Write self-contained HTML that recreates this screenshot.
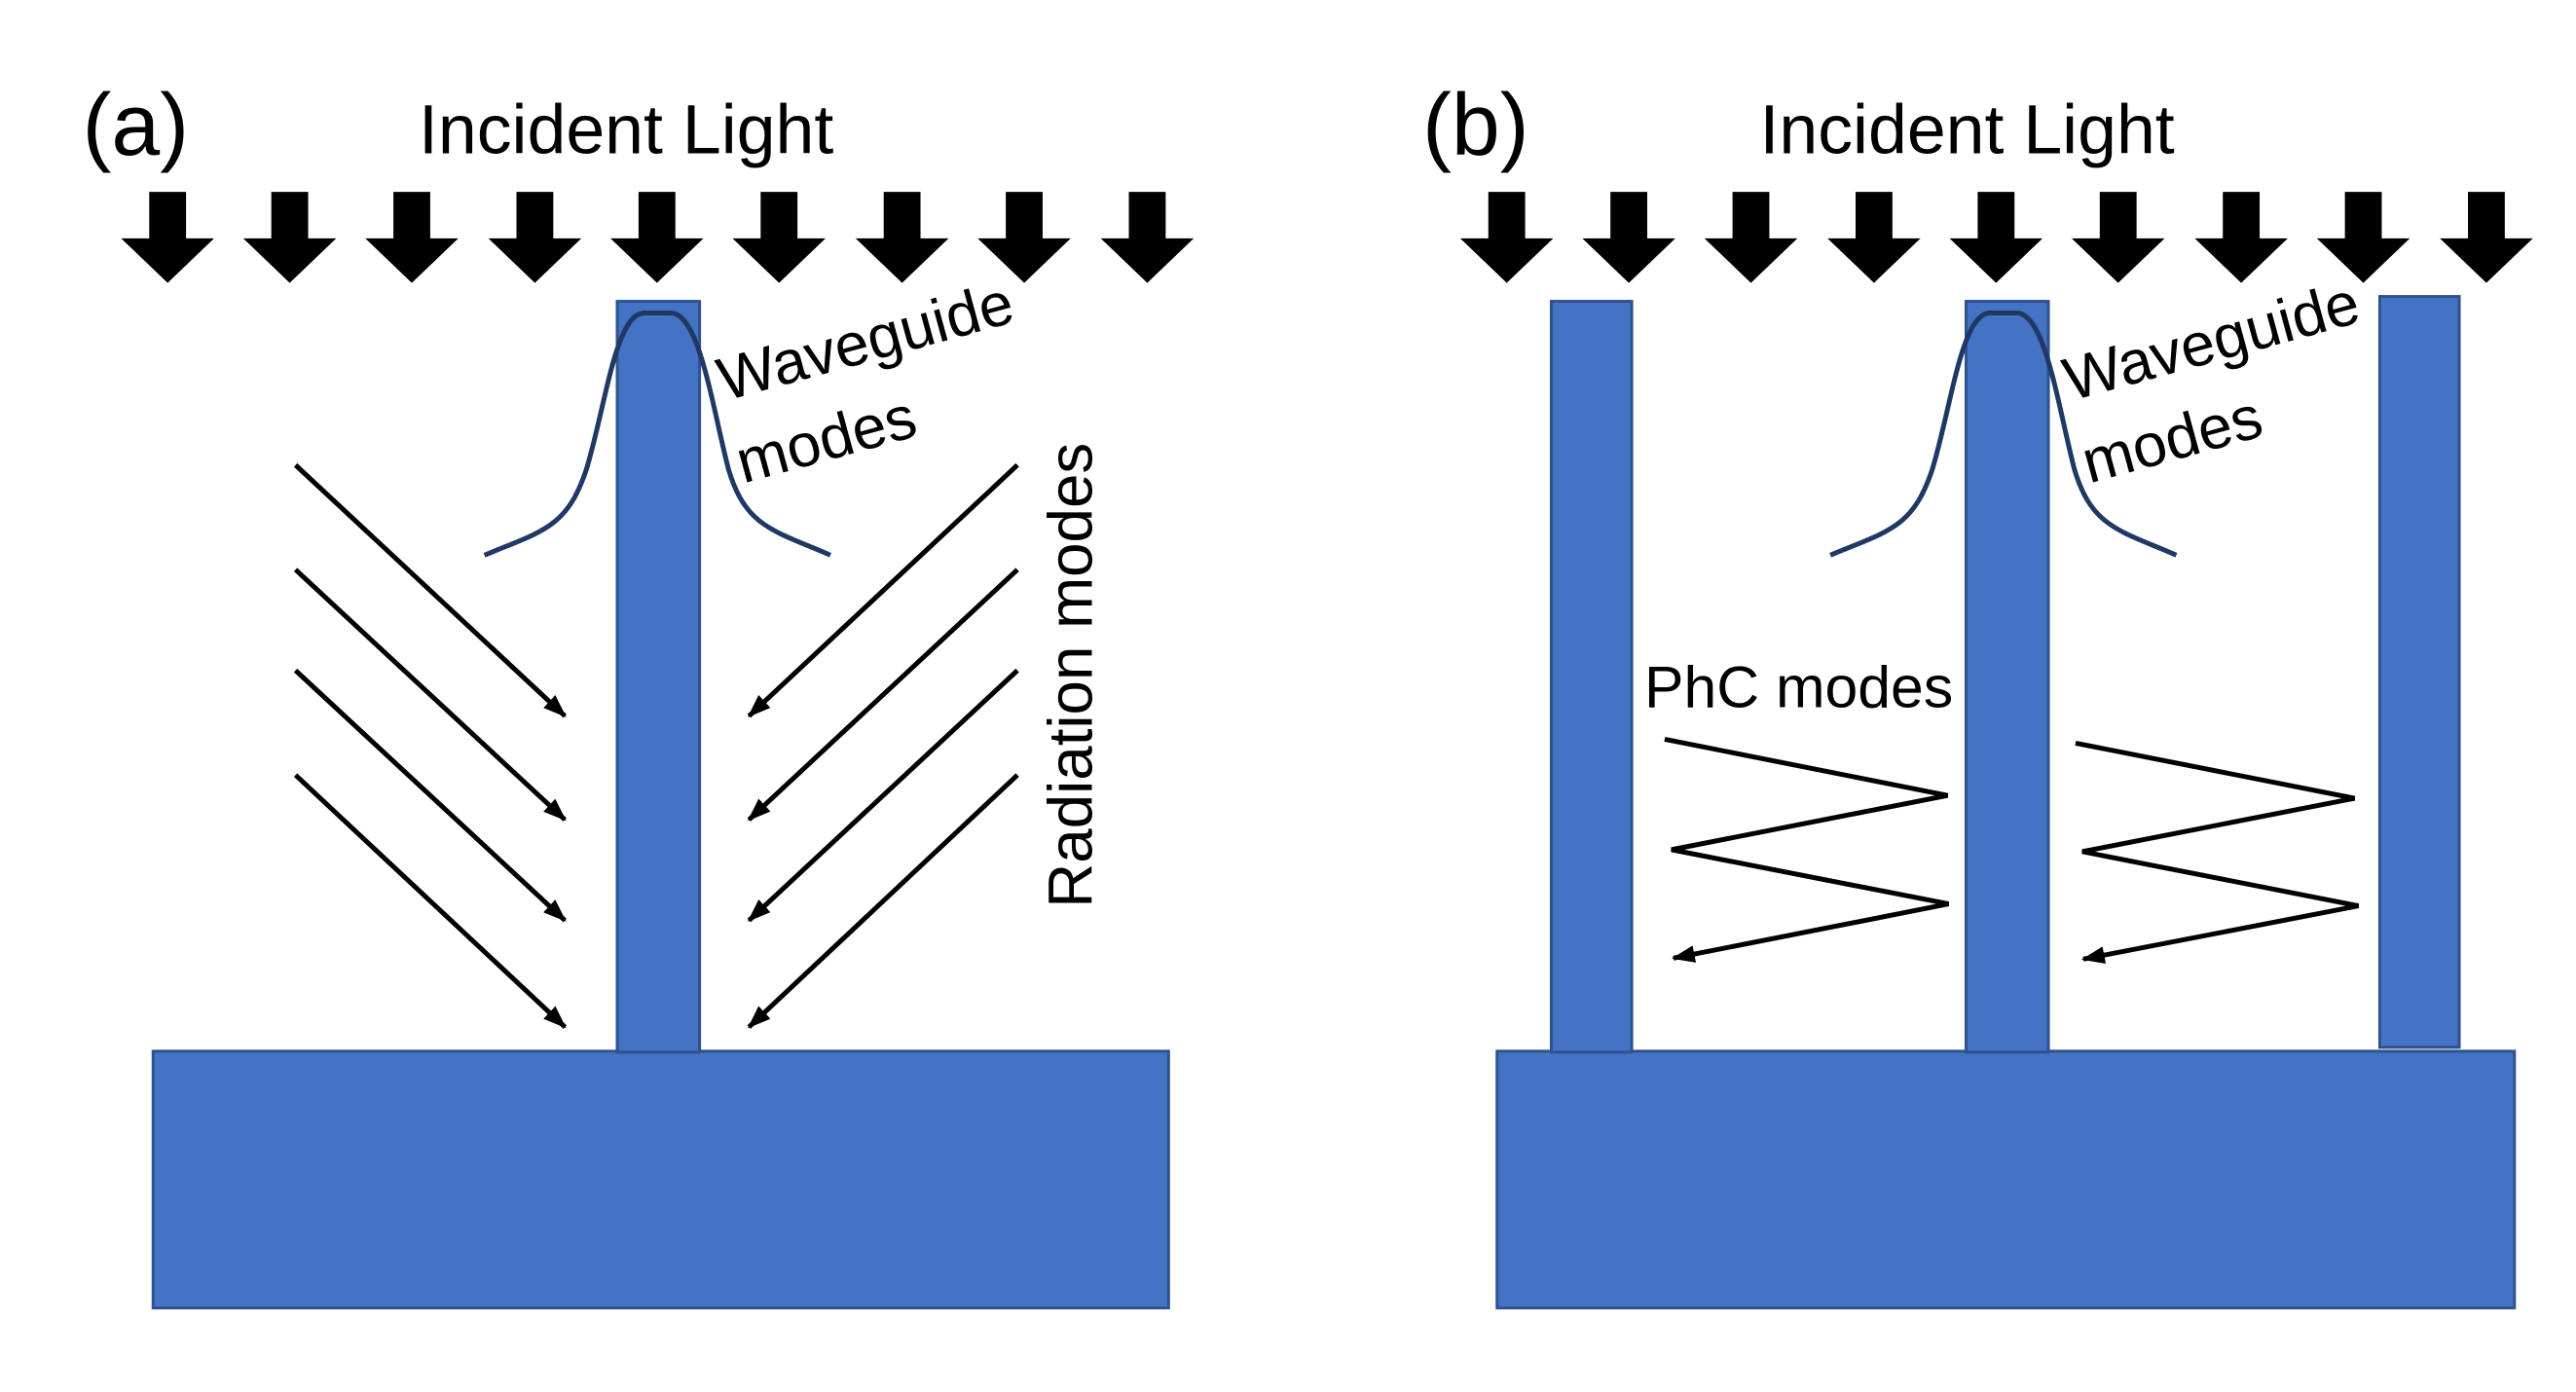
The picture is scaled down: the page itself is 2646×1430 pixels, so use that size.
<!DOCTYPE html>
<html><head><meta charset="utf-8"><style>html,body{margin:0;padding:0;background:#fff}svg{display:block}</style></head>
<body>
<svg width="2646" height="1430" viewBox="0 0 2646 1430" xmlns="http://www.w3.org/2000/svg" font-family="Liberation Sans, sans-serif">
<defs>
<g id="dn"><polygon points="-19,0 19,0 19,48 48,48 0,94 -48,48 -19,48" fill="#000"/></g>
<marker id="ah2" markerWidth="26" markerHeight="22" refX="22" refY="11" orient="auto" markerUnits="userSpaceOnUse"><path d="M0,2 L24,11 L0,20 z" fill="#000"/></marker>
</defs>
<g transform="scale(0.9953)">
<!-- Panel a -->
<text x="85" y="160" font-size="90">(a)</text>
<text x="432" y="158" font-size="72">Incident Light</text>
<g>
<use href="#dn" x="173" y="198"/><use href="#dn" x="299" y="198"/><use href="#dn" x="425" y="198"/><use href="#dn" x="552" y="198"/><use href="#dn" x="678" y="198"/><use href="#dn" x="804" y="198"/><use href="#dn" x="931" y="198"/><use href="#dn" x="1057" y="198"/><use href="#dn" x="1184" y="198"/>
</g>
<rect x="158" y="1085" width="1048" height="265" fill="#4472c4" stroke="#2f528f" stroke-width="3"/>
<rect x="637" y="311" width="85" height="775" fill="#4472c4" stroke="#2f528f" stroke-width="3"/>
<path d="M500,573 C560,548 585,545 605,485 C625,420 635,323 665,323 L692,323 C722,323 735,420 752,485 C770,545 800,548 857,573" fill="none" stroke="#1f3864" stroke-width="5"/>
<text font-size="63" transform="translate(748,414) rotate(-15.3)">Waveguide</text>
<text font-size="63" transform="translate(767,499) rotate(-15.3)">modes</text>
<g stroke="#000" stroke-width="5" marker-end="url(#ah2)">
<line x1="305" y1="480" x2="583" y2="739"/><line x1="305" y1="588" x2="583" y2="846"/><line x1="305" y1="692" x2="583" y2="950"/><line x1="305" y1="800" x2="583" y2="1060"/>
<line x1="1050" y1="480" x2="773" y2="739"/><line x1="1050" y1="588" x2="773" y2="846"/><line x1="1050" y1="692" x2="773" y2="950"/><line x1="1050" y1="800" x2="773" y2="1060"/>
</g>
<text font-size="64" text-anchor="middle" transform="translate(1127,697) rotate(-90)">Radiation modes</text>
<!-- Panel b -->
<text x="1468" y="160" font-size="90">(b)</text>
<text x="1816" y="158" font-size="72">Incident Light</text>
<g>
<use href="#dn" x="1555" y="198"/><use href="#dn" x="1681" y="198"/><use href="#dn" x="1807" y="198"/><use href="#dn" x="1934" y="198"/><use href="#dn" x="2060" y="198"/><use href="#dn" x="2186" y="198"/><use href="#dn" x="2313" y="198"/><use href="#dn" x="2439" y="198"/><use href="#dn" x="2566" y="198"/>
</g>
<rect x="1545" y="1085" width="1050" height="265" fill="#4472c4" stroke="#2f528f" stroke-width="3"/>
<rect x="1601" y="311" width="83" height="775" fill="#4472c4" stroke="#2f528f" stroke-width="3"/>
<rect x="2029" y="311" width="85" height="775" fill="#4472c4" stroke="#2f528f" stroke-width="3"/>
<rect x="2456" y="306" width="82" height="775" fill="#4472c4" stroke="#2f528f" stroke-width="3"/>
<path d="M1889,573 C1949,548 1974,545 1994,485 C2014,420 2024,323 2054,323 L2081,323 C2111,323 2124,420 2141,485 C2159,545 2189,548 2246,573" fill="none" stroke="#1f3864" stroke-width="5"/>
<text font-size="63" transform="translate(2137,414) rotate(-15.3)">Waveguide</text>
<text font-size="63" transform="translate(2156,499) rotate(-15.3)">modes</text>
<text x="1697" y="730" font-size="61">PhC modes</text>
<g fill="none" stroke="#000" stroke-width="5" marker-end="url(#ah2)">
<polyline points="1718,763 2010,821 1725,877 2011,933 1727,989"/>
<polyline points="2142,767 2430,824 2149,879 2434,935 2150,990"/>
</g>
</g>
</svg>
</body></html>
